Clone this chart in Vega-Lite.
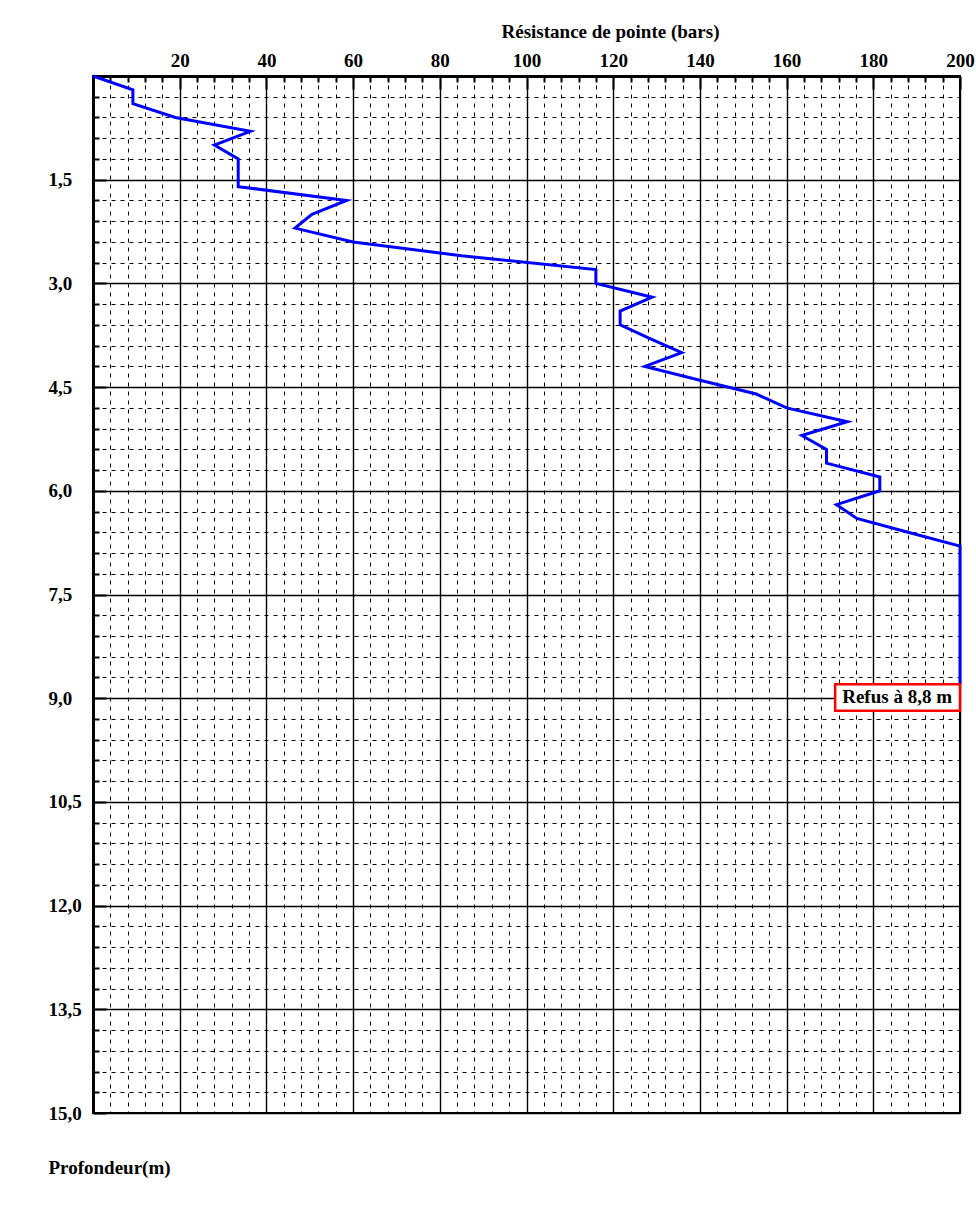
{
  "$schema": "https://vega.github.io/schema/vega-lite/v6.json",
  "width": 867,
  "height": 1037,
  "autosize": {"type": "none"},
  "padding": {"left": 93, "top": 76, "right": 16, "bottom": 95},
  "background": "white",
  "config": {"view": {"stroke": "#000", "strokeWidth": 2}, "font": "Liberation Serif"},
  "data": {"values": [
    {"depth": 0.0, "qc": 0},
    {"depth": 0.2, "qc": 9.2},
    {"depth": 0.4, "qc": 9.2},
    {"depth": 0.6, "qc": 19},
    {"depth": 0.8, "qc": 36.3},
    {"depth": 1.0, "qc": 28},
    {"depth": 1.2, "qc": 33.5},
    {"depth": 1.4, "qc": 33.5},
    {"depth": 1.6, "qc": 33.5},
    {"depth": 1.8, "qc": 58.5},
    {"depth": 2.0, "qc": 50.5},
    {"depth": 2.2, "qc": 46.6},
    {"depth": 2.4, "qc": 60},
    {"depth": 2.6, "qc": 85},
    {"depth": 2.8, "qc": 116},
    {"depth": 3.0, "qc": 116},
    {"depth": 3.2, "qc": 129},
    {"depth": 3.4, "qc": 121.6},
    {"depth": 3.6, "qc": 121.6},
    {"depth": 3.8, "qc": 128.5},
    {"depth": 4.0, "qc": 135.8},
    {"depth": 4.2, "qc": 127.3},
    {"depth": 4.4, "qc": 140},
    {"depth": 4.6, "qc": 153},
    {"depth": 4.8, "qc": 160},
    {"depth": 5.0, "qc": 174},
    {"depth": 5.2, "qc": 163.5},
    {"depth": 5.4, "qc": 169.2},
    {"depth": 5.6, "qc": 169.2},
    {"depth": 5.8, "qc": 181.5},
    {"depth": 6.0, "qc": 181.5},
    {"depth": 6.2, "qc": 171.5},
    {"depth": 6.4, "qc": 176.2},
    {"depth": 6.6, "qc": 188},
    {"depth": 6.8, "qc": 200},
    {"depth": 7.0, "qc": 200},
    {"depth": 7.2, "qc": 200},
    {"depth": 7.4, "qc": 200},
    {"depth": 7.6, "qc": 200},
    {"depth": 7.8, "qc": 200},
    {"depth": 8.0, "qc": 200},
    {"depth": 8.2, "qc": 200},
    {"depth": 8.4, "qc": 200},
    {"depth": 8.6, "qc": 200},
    {"depth": 8.8, "qc": 200}
  ]},
  "layer": [
    {
      "mark": {"type": "line", "color": "#0000ff", "strokeWidth": 3, "clip": false},
      "encoding": {
        "x": {
          "field": "qc", "type": "quantitative",
          "scale": {"domain": [0, 200], "nice": false, "zero": false},
          "axis": {
            "orient": "top",
            "values": [0,4,8,12,16,20,24,28,32,36,40,44,48,52,56,60,64,68,72,76,80,84,88,92,96,100,104,108,112,116,120,124,128,132,136,140,144,148,152,156,160,164,168,172,176,180,184,188,192,196,200],
            "tickCount": 200,
            "grid": true,
            "gridColor": "#000",
            "gridOpacity": 1,
            "gridDash": {"condition": {"test": "datum.value % 20 === 0", "value": []}, "value": [4, 5]},
            "gridWidth": {"condition": {"test": "datum.value % 20 === 0", "value": 1.4}, "value": 1},
            "domain": true, "domainColor": "#000", "domainWidth": 3,
            "ticks": true, "tickColor": "#000", "tickWidth": 2,
            "tickSize": {"condition": {"test": "datum.value % 20 === 0", "value": -13}, "value": -6},
            "labelExpr": "datum.value > 0 && datum.value % 20 === 0 ? datum.label : ''",
            "labelFont": "Liberation Serif", "labelFontWeight": "bold", "labelFontSize": 19, "labelColor": "#000",
            "labelBaseline": "alphabetic", "labelPadding": 23,
            "labelOverlap": false, "labelFlush": false, "labelBound": false,
            "title": "Résistance de pointe (bars)",
            "titleFont": "Liberation Serif", "titleFontWeight": "bold", "titleFontSize": 19, "titleColor": "#000",
            "titleX": 517, "titleY": -39, "titleAlign": "center", "titleBaseline": "alphabetic", "titleAngle": 0
          }
        },
        "y": {
          "field": "depth", "type": "quantitative",
          "scale": {"domain": [0, 15], "nice": false, "zero": false, "reverse": true},
          "axis": {
            "orient": "left",
            "values": [0,0.3,0.6,0.9,1.2,1.5,1.8,2.1,2.4,2.7,3,3.3,3.6,3.9,4.2,4.5,4.8,5.1,5.4,5.7,6,6.3,6.6,6.9,7.2,7.5,7.8,8.1,8.4,8.7,9,9.3,9.6,9.9,10.2,10.5,10.8,11.1,11.4,11.7,12,12.3,12.6,12.9,13.2,13.5,13.8,14.1,14.4,14.7,15],
            "tickCount": 200,
            "grid": true,
            "gridColor": "#000",
            "gridOpacity": 1,
            "gridDash": {"condition": {"test": "abs(datum.value / 1.5 - round(datum.value / 1.5)) < 0.001", "value": []}, "value": [4, 5]},
            "gridWidth": {"condition": {"test": "abs(datum.value / 1.5 - round(datum.value / 1.5)) < 0.001", "value": 1.4}, "value": 1},
            "domain": true, "domainColor": "#000", "domainWidth": 3,
            "ticks": true, "tickColor": "#000", "tickWidth": 2,
            "tickSize": {"condition": {"test": "abs(datum.value / 1.5 - round(datum.value / 1.5)) < 0.001", "value": -13}, "value": -6},
            "labelExpr": "datum.value > 0 && abs(datum.value / 1.5 - round(datum.value / 1.5)) < 0.001 ? replace(format(datum.value, '.1f'), '.', ',') : ''",
            "labelFont": "Liberation Serif", "labelFontWeight": "bold", "labelFontSize": 19, "labelColor": "#000",
            "labelAlign": "left", "labelBaseline": "middle", "labelPadding": 58,
            "labelOverlap": false, "labelFlush": false, "labelBound": false,
            "title": "Profondeur(m)",
            "titleFont": "Liberation Serif", "titleFontWeight": "bold", "titleFontSize": 19, "titleColor": "#000",
            "titleX": -45, "titleY": 1097, "titleAlign": "left", "titleBaseline": "alphabetic", "titleAngle": 0
          }
        },
        "order": {"field": "depth", "type": "quantitative"}
      }
    },
    {
      "data": {"values": [{"note": "Refus à 8,8 m", "depth": 8.8, "qc": 200}]},
      "mark": {"type": "rect", "fill": "white", "stroke": "#ff0000", "strokeWidth": 2.5},
      "encoding": {
        "x": {"datum": 171.2, "type": "quantitative"},
        "x2": {"datum": 200},
        "y": {"datum": 8.8, "type": "quantitative"},
        "y2": {"datum": 9.18}
      }
    },
    {
      "data": {"values": [{"note": "Refus à 8,8 m", "depth": 8.8, "qc": 200}]},
      "mark": {"type": "text", "font": "Liberation Serif", "fontWeight": "bold", "fontSize": 19, "color": "#000", "align": "right", "baseline": "middle", "dx": -8, "dy": 13},
      "encoding": {
        "x": {"field": "qc", "type": "quantitative"},
        "y": {"field": "depth", "type": "quantitative"},
        "text": {"field": "note"}
      }
    }
  ]
}
